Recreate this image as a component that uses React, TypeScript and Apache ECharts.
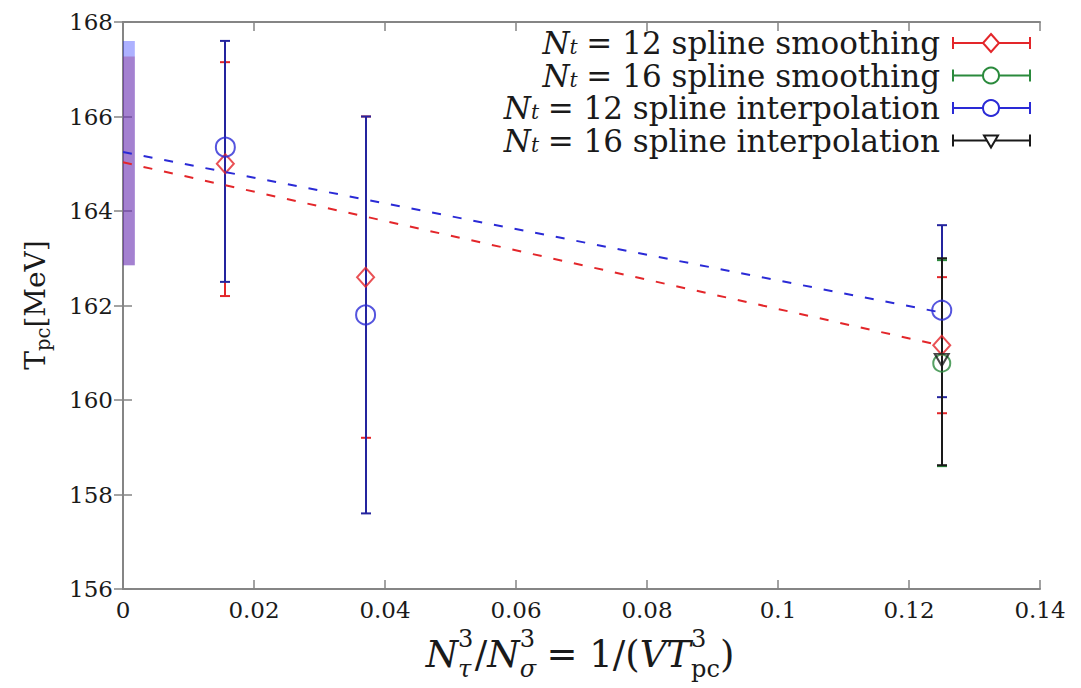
import React, { useEffect, useRef } from "react";
import * as echarts from "echarts";

const FONT = "DejaVu Serif";

// ---- tick labels ----
const xTickLabels = ["0", "0.02", "0.04", "0.06", "0.08", "0.1", "0.12", "0.14"];
const yTickLabels = ["156", "158", "160", "162", "164", "166", "168"];

// ---- data: N_t = 12 (x = N_tau^3 / N_sigma^3) ----
const xNt12 = [0.015625, 0.037037, 0.125];
const nt12SmoothVal = [165.0, 162.6, 161.16];
const nt12SmoothLow = [162.2, 159.2, 159.72];
const nt12SmoothHigh = [167.15, 166.0, 162.6];
const nt12InterpVal = [165.35, 161.8, 161.9];
const nt12InterpLow = [162.5, 157.6, 160.06];
const nt12InterpHigh = [167.6, 166.0, 163.7];

// ---- data: N_t = 16 ----
const xNt16 = [0.125];
const nt16SmoothVal = [160.78];
const nt16SmoothLow = [158.6];
const nt16SmoothHigh = [162.96];
const nt16InterpVal = [160.85];
const nt16InterpLow = [158.62];
const nt16InterpHigh = [163.0];

// ---- linear fits (dashed) ----
const fitX = [0, 0.125];
const fitSmoothY = [165.03, 161.15];
const fitInterpY = [165.25, 161.85];

// ---- extrapolated bands at x = 0 ----
const bandX = [0, 0.0018];
const bandSmooth = [162.85, 167.27];
const bandInterp = [162.85, 167.6];

// ---- legend ----
const legendNt = ["12", "16", "12", "16"];
const legendMethod = ["spline smoothing", "spline smoothing", "spline interpolation", "spline interpolation"];

const RED = "#e3262a";
const GREEN = "#2a8a3c";
const BLUE = "#2a2ad6";
const BLUE_BAR = "#24249e";
const BLACK = "#1a1a1a";
const TEXT = "#1a1a1a";

let mctx: CanvasRenderingContext2D | null = null;
function measure(t: string, size: number, italic?: boolean) {
  if (!mctx) mctx = document.createElement("canvas").getContext("2d");
  mctx!.font = `${italic ? "italic " : ""}${size}px ${FONT}`;
  return mctx!.measureText(t).width;
}

type Piece = { t: string; k?: number; it?: boolean; dy?: number; stack?: boolean; pad?: number };

function layout(pieces: Piece[], base: number) {
  let x = 0;
  let prevStart = 0;
  let prevW = 0;
  const items: any[] = [];
  for (const p of pieces) {
    const size = (p.k ?? 1) * base;
    const w = measure(p.t, size, p.it);
    let start: number;
    if (p.stack) {
      start = prevStart;
      x = prevStart + Math.max(prevW, w);
    } else {
      x += (p.pad ?? 0) * base;
      start = x;
      x += w;
    }
    items.push({ ...p, x: start, size });
    prevStart = start;
    prevW = w;
  }
  return { items, width: x };
}

function fitBase(pieces: Piece[], target: number, maxSize: number) {
  const w = layout(pieces, 100).width;
  return Math.min(maxSize, (100 * target) / w);
}

function toTexts(pieces: Piece[], base: number, ox: number, oy: number) {
  const { items } = layout(pieces, base);
  return items.map((it: any) => ({
    type: "text",
    x: ox + it.x,
    y: oy + (it.dy ?? 0) * base,
    style: {
      text: it.t,
      fontSize: it.size,
      fontFamily: FONT,
      fontStyle: it.it ? "italic" : "normal",
      fill: TEXT,
      align: "left",
      verticalAlign: "middle",
    },
  }));
}

const SK = 0.65;
const SUB = 0.4;
const SUP = -0.4;

function legendPieces(i: number): Piece[] {
  return [
    { t: "N", it: true },
    { t: "t", k: SK, it: true, dy: 0.13 },
    { t: "= " + legendNt[i] + " " + legendMethod[i], pad: 0.28 },
  ];
}

const xTitlePieces: Piece[] = [
  { t: "N", it: true },
  { t: "3", k: SK, dy: SUP },
  { t: "τ", k: SK, it: true, dy: SUB, stack: true },
  { t: "/", pad: 0.04 },
  { t: "N", it: true },
  { t: "3", k: SK, dy: SUP },
  { t: "σ", k: SK, it: true, dy: SUB, stack: true },
  { t: "= 1/(", pad: 0.28 },
  { t: "V", it: true },
  { t: "T", it: true },
  { t: "3", k: SK, dy: SUP },
  { t: "pc", k: SK, dy: SUB, stack: true },
  { t: ")" },
];

const yTitlePieces: Piece[] = [
  { t: "T" },
  { t: "pc", k: 0.7, dy: 0.3 },
  { t: "[MeV]" },
];

function errBar(color: string, lw = 2) {
  return (params: any, api: any) => {
    const xv = api.value(0);
    const lo = api.coord([xv, api.value(2)]);
    const hi = api.coord([xv, api.value(3)]);
    const x = Math.round(lo[0]);
    const c = 5;
    const st = { stroke: color, lineWidth: lw };
    return {
      type: "group",
      children: [
        { type: "line", shape: { x1: x, y1: lo[1], x2: x, y2: hi[1] }, style: st },
        { type: "line", shape: { x1: x - c, y1: lo[1], x2: x + c, y2: lo[1] }, style: st },
        { type: "line", shape: { x1: x - c, y1: hi[1], x2: x + c, y2: hi[1] }, style: st },
      ],
    };
  };
}

function band(fill: string) {
  return (params: any, api: any) => {
    const p0 = api.coord([api.value(0), api.value(3)]);
    const p1 = api.coord([api.value(1), api.value(2)]);
    return {
      type: "rect",
      shape: { x: p0[0], y: p0[1], width: p1[0] - p0[0], height: p1[1] - p0[1] },
      style: { fill },
    };
  };
}

function legendSymbol(i: number, y: number): any[] {
  const colors = [RED, GREEN, BLUE, BLACK];
  const col = colors[i];
  const x0 = 953;
  const x1 = 1030;
  const xm = 991;
  const st = { stroke: col, lineWidth: 2 };
  const els: any[] = [
    { type: "line", shape: { x1: x0, y1: y, x2: x1, y2: y }, style: st },
    { type: "line", shape: { x1: x0, y1: y - 6, x2: x0, y2: y + 6 }, style: st },
    { type: "line", shape: { x1: x1, y1: y - 6, x2: x1, y2: y + 6 }, style: st },
  ];
  const mst = { stroke: col, lineWidth: 2, fill: "#ffffff" };
  if (i === 0) {
    els.push({ type: "polygon", shape: { points: [[xm, y - 9], [xm + 8, y], [xm, y + 9], [xm - 8, y]] }, style: mst });
  } else if (i === 1 || i === 2) {
    els.push({ type: "circle", shape: { cx: xm, cy: y, r: 8 }, style: mst });
  } else {
    els.push({ type: "polygon", shape: { points: [[xm - 7, y - 5], [xm + 7, y - 5], [xm, y + 7]] }, style: mst });
  }
  return els;
}

export default function App() {
  const ref = useRef<HTMLDivElement>(null);
  useEffect(() => {
    document.body.style.margin = "0";
    const chart = echarts.init(ref.current!, null, { renderer: "svg" });

    const tickSize = 23;
    const legBase = fitBase(legendPieces(0), 435, 31);
    const xTitleBase = fitBase(xTitlePieces, 322, 37);
    const yTitleBase = fitBase(yTitlePieces, 132, 28);

    const legendRowsY = [43, 75.5, 108, 140.5];
    const graphics: any[] = [];
    legendRowsY.forEach((y, i) => {
      const { width } = layout(legendPieces(i), legBase);
      graphics.push(...toTexts(legendPieces(i), legBase, 940 - width, y));
      graphics.push(...legendSymbol(i, y));
    });
    const xt = layout(xTitlePieces, xTitleBase);
    graphics.push(...toTexts(xTitlePieces, xTitleBase, 580 - xt.width / 2, 654));
    const yt = layout(yTitlePieces, yTitleBase);
    graphics.push({
      type: "group",
      x: 35,
      y: 305,
      rotation: Math.PI / 2,
      children: toTexts(yTitlePieces, yTitleBase, -yt.width / 2, 0),
    });

    const frame = { show: true, lineStyle: { color: "#858585", width: 2 } };
    const tick = { show: true, inside: true, length: 9, lineStyle: { color: "#858585", width: 1.5 } };
    const labelStyle = { fontFamily: FONT, fontSize: tickSize, color: TEXT };

    const xBase = { type: "value", min: 0, max: 0.14, interval: 0.02, splitLine: { show: false }, axisLine: frame, axisTick: tick };
    const yBase = { type: "value", min: 156, max: 168, interval: 2, splitLine: { show: false }, axisLine: frame, axisTick: tick };

    const ebData = (xs: number[], v: number[], lo: number[], hi: number[]) => xs.map((x, i) => [x, v[i], lo[i], hi[i]]);
    const ptData = (xs: number[], v: number[]) => xs.map((x, i) => [x, v[i]]);

    const option: any = {
      animation: false,
      backgroundColor: "#ffffff",
      grid: { left: 123, right: 41, top: 22, bottom: 99, containLabel: false, outerBoundsMode: "none" },
      xAxis: [
        {
          ...xBase,
          position: "bottom",
          axisLabel: {
            ...labelStyle,
            margin: 9,
            showMinLabel: true,
            showMaxLabel: true,
            formatter: (v: number) => xTickLabels[Math.round(v / 0.02)] ?? "",
          },
        },
        { ...xBase, position: "top", axisLabel: { show: false } },
      ],
      yAxis: [
        {
          ...yBase,
          position: "left",
          axisLabel: {
            ...labelStyle,
            margin: 10,
            showMinLabel: true,
            showMaxLabel: true,
            formatter: (v: number) => yTickLabels[Math.round((v - 156) / 2)] ?? "",
          },
        },
        { ...yBase, position: "right", axisLabel: { show: false } },
      ],
      series: [
        {
          type: "custom",
          name: "band interp",
          renderItem: band("rgba(40,50,255,0.38)"),
          data: [[bandX[0], bandX[1], bandInterp[0], bandInterp[1]]],
          encode: { x: [0, 1], y: [2, 3] },
          silent: true,
        },
        {
          type: "custom",
          name: "band smooth",
          renderItem: band("rgba(150,40,120,0.35)"),
          data: [[bandX[0], bandX[1], bandSmooth[0], bandSmooth[1]]],
          encode: { x: [0, 1], y: [2, 3] },
          silent: true,
        },
        {
          type: "line",
          name: "fit smooth",
          data: ptData(fitX, fitSmoothY),
          showSymbol: false,
          lineStyle: { color: RED, width: 2, type: [9, 12] },
          silent: true,
        },
        {
          type: "line",
          name: "fit interp",
          data: ptData(fitX, fitInterpY),
          showSymbol: false,
          lineStyle: { color: BLUE, width: 2, type: [9, 12] },
          silent: true,
        },
        {
          type: "custom",
          name: "Nt12 smoothing err",
          renderItem: errBar(RED),
          data: ebData(xNt12, nt12SmoothVal, nt12SmoothLow, nt12SmoothHigh),
          encode: { x: 0, y: [1, 2, 3] },
        },
        {
          type: "custom",
          name: "Nt16 smoothing err",
          renderItem: errBar(GREEN),
          data: ebData(xNt16, nt16SmoothVal, nt16SmoothLow, nt16SmoothHigh),
          encode: { x: 0, y: [1, 2, 3] },
        },
        {
          type: "custom",
          name: "Nt12 interpolation err",
          renderItem: errBar(BLUE_BAR),
          data: ebData(xNt12, nt12InterpVal, nt12InterpLow, nt12InterpHigh),
          encode: { x: 0, y: [1, 2, 3] },
        },
        {
          type: "custom",
          name: "Nt16 interpolation err",
          renderItem: errBar(BLACK),
          data: ebData(xNt16, nt16InterpVal, nt16InterpLow, nt16InterpHigh),
          encode: { x: 0, y: [1, 2, 3] },
        },
        {
          type: "scatter",
          name: "Nt12 smoothing",
          data: ptData(xNt12, nt12SmoothVal),
          symbol: "diamond",
          symbolSize: [17, 19],
          itemStyle: { color: "rgba(0,0,0,0)", borderColor: RED, borderWidth: 2 },
        },
        {
          type: "scatter",
          name: "Nt16 smoothing",
          data: ptData(xNt16, nt16SmoothVal),
          symbol: "circle",
          symbolSize: 17,
          itemStyle: { color: "rgba(0,0,0,0)", borderColor: GREEN, borderWidth: 2 },
        },
        {
          type: "scatter",
          name: "Nt12 interpolation",
          data: ptData(xNt12, nt12InterpVal),
          symbol: "circle",
          symbolSize: 19,
          itemStyle: { color: "rgba(0,0,0,0)", borderColor: BLUE, borderWidth: 2 },
        },
        {
          type: "scatter",
          name: "Nt16 interpolation",
          data: ptData(xNt16, nt16InterpVal),
          symbol: "triangle",
          symbolRotate: 180,
          symbolSize: [14, 12],
          itemStyle: { color: "rgba(0,0,0,0)", borderColor: BLACK, borderWidth: 2 },
        },
      ],
      graphic: graphics,
    };

    chart.setOption(option);
    return () => chart.dispose();
  }, []);
  return <div ref={ref} style={{ width: 1081, height: 688 }} />;
}
